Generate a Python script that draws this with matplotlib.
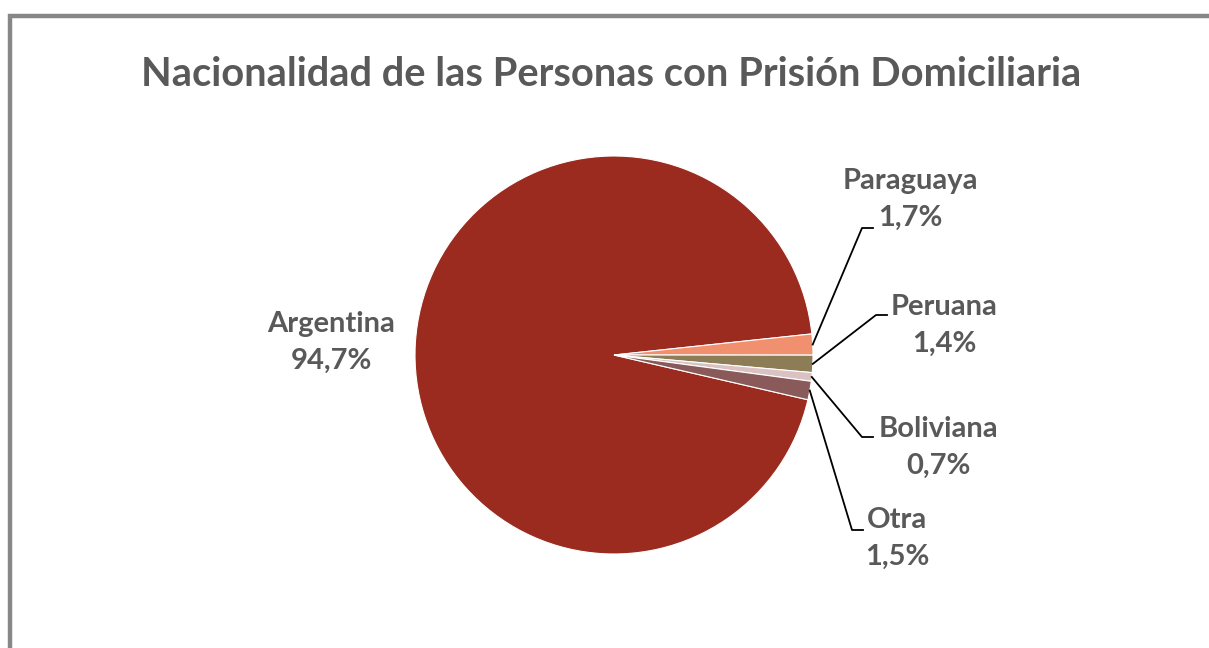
import matplotlib.pyplot as plt
import numpy as np

# Data
categories = ['Argentina', 'Paraguaya', 'Peruana', 'Boliviana', 'Otra']
values = [94.7, 1.7, 1.4, 0.7, 1.5]
colors = ['#9B2B1F', '#F0906F', '#8C7D56', '#D9C2C1', '#8A5A5A']

W, H = 1209, 648
fig = plt.figure(figsize=(W / 100, H / 100), dpi=100)
ax = fig.add_axes([0, 0, 1, 1])

font = 'Lato'
txt_color = '#595959'

cx, cy, r = 614, H - 355, 199
wedges, _ = ax.pie(values, colors=colors, startangle=-13, counterclock=False,
                   center=(cx, cy), radius=r, frame=True,
                   wedgeprops=dict(edgecolor='white', linewidth=0.8))
ax.set_xlim(0, W)
ax.set_ylim(0, H)
ax.set_aspect('equal')
ax.axis('off')

# chart frame (only left and top visible)
ax.plot([10, 10, W], [0, H - 15.5, H - 15.5], color='#878787', lw=3.2,
        solid_joinstyle='miter', clip_on=False)

ax.text(611, H - 75, 'Nacionalidad de las Personas con Prisión Domiciliaria',
        ha='center', va='center', fontsize=28.7, fontweight='bold',
        color=txt_color, family=font)

# label layout: (text center x, first line y, elbow x, elbow y)
layout = {
    'Argentina': (331, 324, None, None),
    'Paraguaya': (910, 181, 862, 228),
    'Peruana': (944, 307, 876, 315),
    'Boliviana': (938, 429, 862, 437),
    'Otra': (897, 520, 852, 530),
}

for w, cat, val in zip(wedges, categories, values):
    tx, ty, ex, ey = layout[cat]
    ax.text(tx, H - ty, cat, ha='center', va='center', fontsize=21,
            fontweight='bold', color=txt_color, family=font)
    ax.text(tx, H - ty - 37, f'{val:.1f}%'.replace('.', ','), ha='center',
            va='center', fontsize=21, fontweight='bold', color=txt_color,
            family=font)
    if ex is not None:
        mid = np.deg2rad((w.theta1 + w.theta2) / 2)
        sx = cx + r * np.cos(mid)
        sy = cy + r * np.sin(mid)
        ax.plot([sx, ex, ex + 11], [sy, H - ey, H - ey], color='black', lw=1.3)

plt.savefig('out.png', dpi=100)
